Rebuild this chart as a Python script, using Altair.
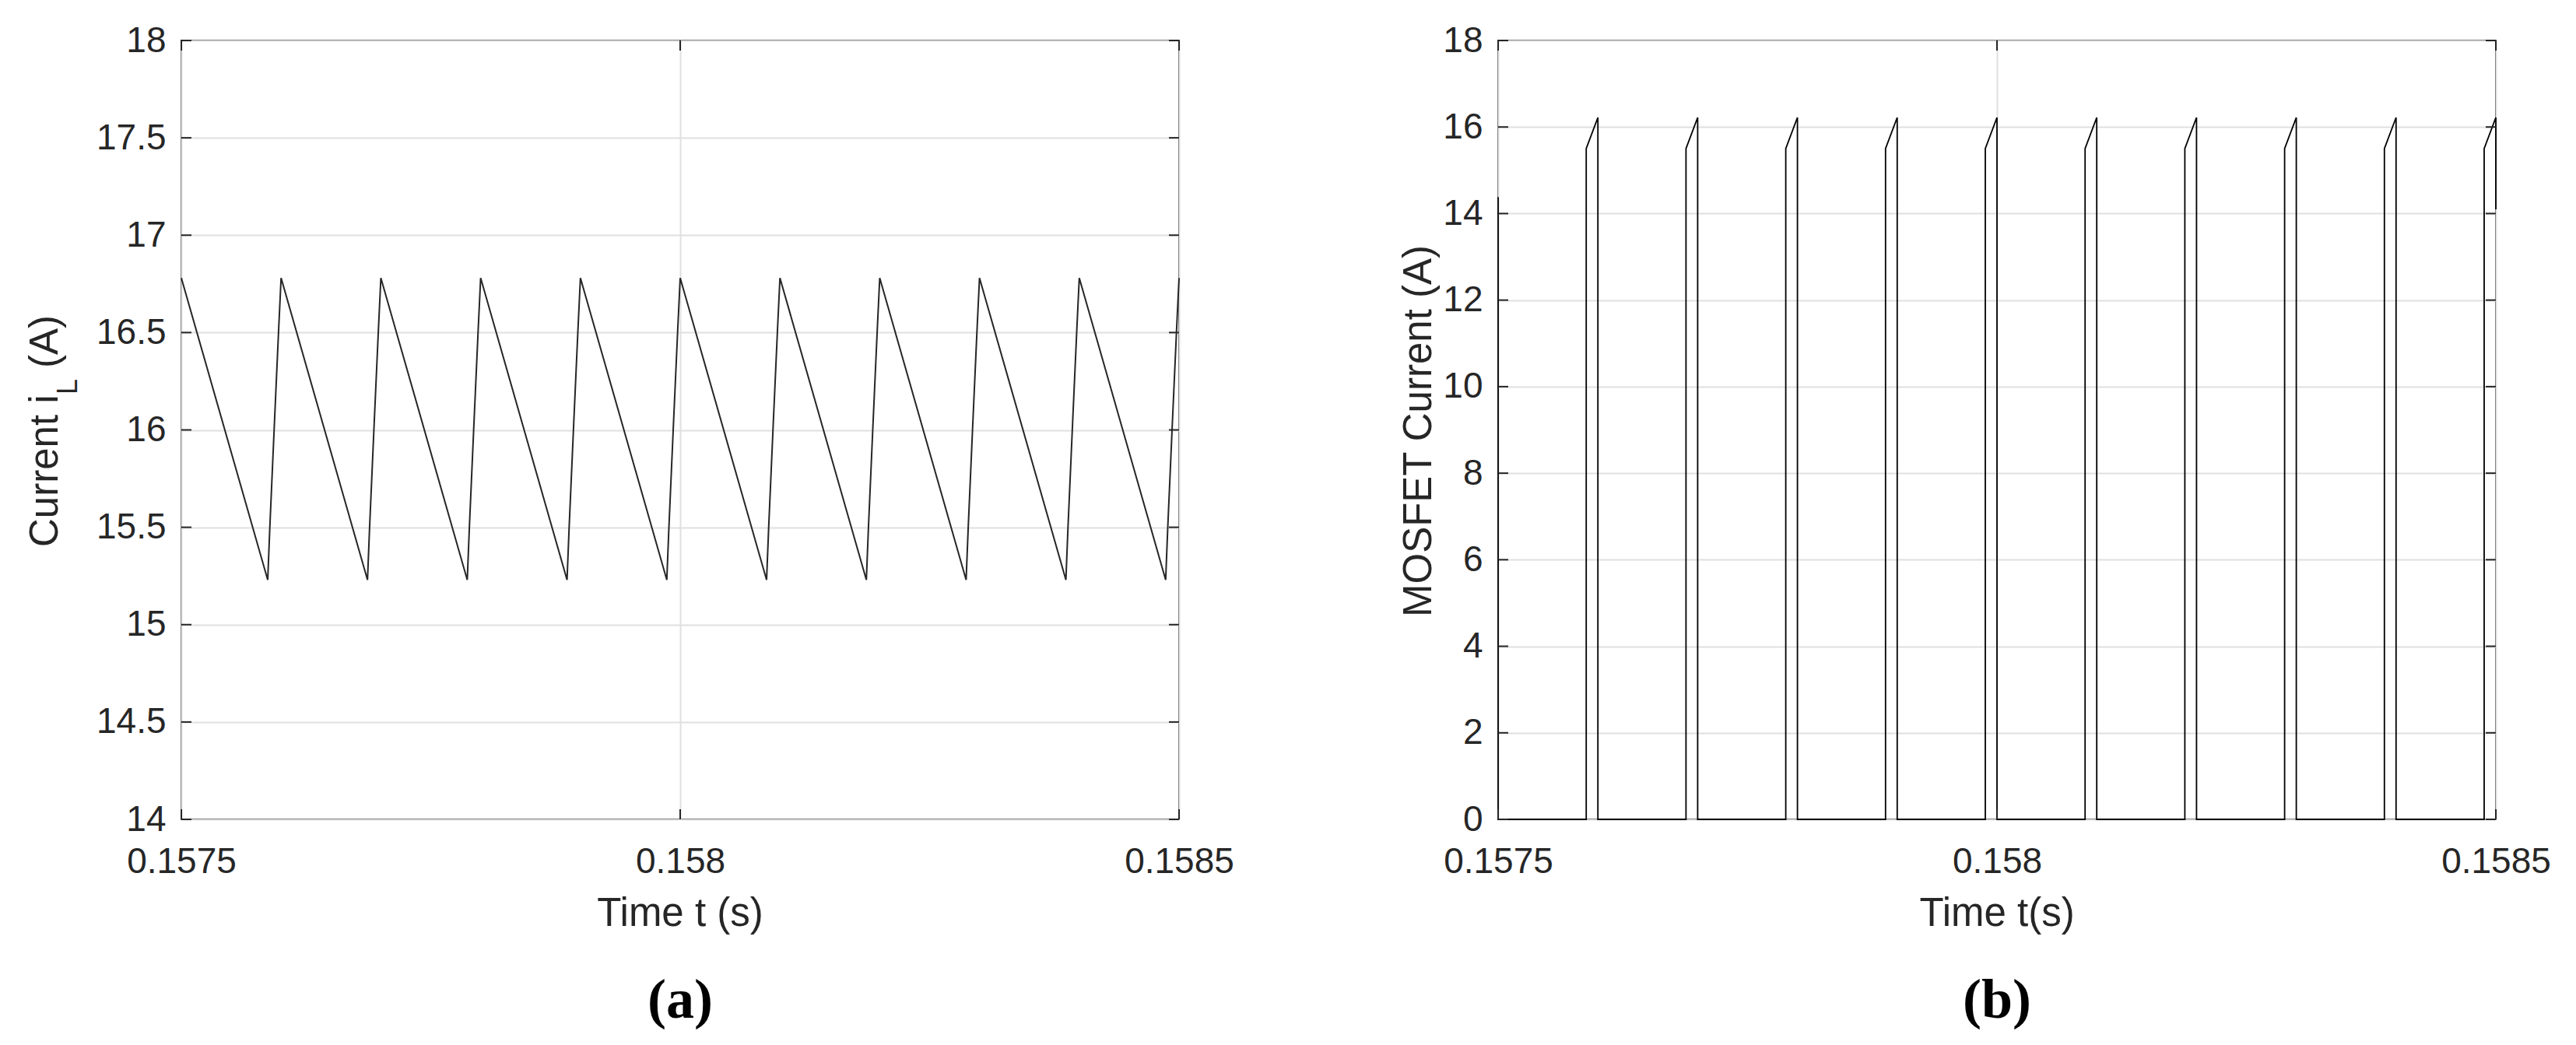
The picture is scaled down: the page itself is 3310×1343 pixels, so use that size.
import altair as alt
import pandas as pd

# ---------------- data ----------------
# (a) inductor current i_L (A) vs time t (s)
t_left = [
    0.1575,
    0.1575866, 0.1575887, 0.1575930, 0.1575974, 0.1576,
    0.1576866, 0.1576887, 0.1576930, 0.1576974, 0.1577,
    0.1577866, 0.1577887, 0.1577930, 0.1577974, 0.1578,
    0.1578866, 0.1578887, 0.1578930, 0.1578974, 0.1579,
    0.1579866, 0.1579887, 0.1579930, 0.1579974, 0.1580,
    0.1580866, 0.1580887, 0.1580930, 0.1580974, 0.1581,
    0.1581866, 0.1581887, 0.1581930, 0.1581974, 0.1582,
    0.1582866, 0.1582887, 0.1582930, 0.1582974, 0.1583,
    0.1583866, 0.1583887, 0.1583930, 0.1583974, 0.1584,
    0.1584866, 0.1584887, 0.1584930, 0.1584974, 0.1585,
]
i_left = [
    16.78,
    15.23, 15.50, 16.00, 16.50, 16.78,
    15.23, 15.50, 16.00, 16.50, 16.78,
    15.23, 15.50, 16.00, 16.50, 16.78,
    15.23, 15.50, 16.00, 16.50, 16.78,
    15.23, 15.50, 16.00, 16.50, 16.78,
    15.23, 15.50, 16.00, 16.50, 16.78,
    15.23, 15.50, 16.00, 16.50, 16.78,
    15.23, 15.50, 16.00, 16.50, 16.78,
    15.23, 15.50, 16.00, 16.50, 16.78,
    15.23, 15.50, 16.00, 16.50, 16.78,
]

# (b) MOSFET current (A) vs time t (s)
t_right = [
    0.1575, 0.1575,
    0.1575883, 0.1575883, 0.1576, 0.1576,
    0.1576883, 0.1576883, 0.1577, 0.1577,
    0.1577883, 0.1577883, 0.1578, 0.1578,
    0.1578883, 0.1578883, 0.1579, 0.1579,
    0.1579883, 0.1579883, 0.1580, 0.1580,
    0.1580883, 0.1580883, 0.1581, 0.1581,
    0.1581883, 0.1581883, 0.1582, 0.1582,
    0.1582883, 0.1582883, 0.1583, 0.1583,
    0.1583883, 0.1583883, 0.1584, 0.1584,
    0.1584883, 0.1584883, 0.1585, 0.1585,
]
i_right = [
    14.38, 0.0,
    0.0, 15.50, 16.22, 0.0,
    0.0, 15.50, 16.22, 0.0,
    0.0, 15.50, 16.22, 0.0,
    0.0, 15.50, 16.22, 0.0,
    0.0, 15.50, 16.22, 0.0,
    0.0, 15.50, 16.22, 0.0,
    0.0, 15.50, 16.22, 0.0,
    0.0, 15.50, 16.22, 0.0,
    0.0, 15.50, 16.22, 0.0,
    0.0, 15.50, 16.22, 14.10,
]

x_ticks = [0.1575, 0.158, 0.1585]
y_ticks_left = [14, 14.5, 15, 15.5, 16, 16.5, 17, 17.5, 18]
y_ticks_right = [0, 2, 4, 6, 8, 10, 12, 14, 16, 18]

# ---------------- styling ----------------
W, H = 1282, 1001
FONT = "Liberation Sans"
SERIF = "Liberation Serif"
DARK = "#262626"
GRID = "#e0e0e0"
TICK_FS = 46
TITLE_FS = 51
TICK_LEN = 13


def make_panel(t, v, ydom, yticks, yfmt, line_color, line_width, ytitle_layers, xtitle, caption):
    df = pd.DataFrame({"t": t, "v": v, "n": list(range(len(t)))})
    xs = alt.X(
        "t:Q",
        scale=alt.Scale(domain=[0.1575, 0.1585], nice=False, zero=False),
        axis=alt.Axis(values=x_ticks, format=".4~f", title=None, ticks=False, domain=False,
                      labelPadding=32, labelFlush=False, labelOverlap=False,
                      grid=True, gridColor=GRID, gridWidth=2,
                      labelFontSize=TICK_FS, labelFont=FONT, labelColor=DARK),
    )
    ys = alt.Y(
        "v:Q",
        scale=alt.Scale(domain=ydom, nice=False, zero=False),
        axis=alt.Axis(values=yticks, format=yfmt, title=None, ticks=False, domain=False,
                      labelPadding=20, labelFlush=False, labelOverlap=False,
                      grid=True, gridColor=GRID, gridWidth=2,
                      labelFontSize=TICK_FS, labelFont=FONT, labelColor=DARK),
    )
    line = alt.Chart(df).mark_line(color=line_color, strokeWidth=line_width).encode(
        x=xs, y=ys, order=alt.Order("n:Q")
    )
    ydf = pd.DataFrame({"v": yticks})
    xdf = pd.DataFrame({"t": x_ticks})
    rule = dict(color=DARK, strokeWidth=2)
    yt_l = alt.Chart(ydf).mark_rule(**rule).encode(y=ys, x=alt.value(0), x2=alt.value(TICK_LEN))
    yt_r = alt.Chart(ydf).mark_rule(**rule).encode(y=ys, x=alt.value(W - TICK_LEN), x2=alt.value(W))
    xt_b = alt.Chart(xdf).mark_rule(**rule).encode(x=xs, y=alt.value(H - TICK_LEN), y2=alt.value(H))
    xt_t = alt.Chart(xdf).mark_rule(**rule).encode(x=xs, y=alt.value(0), y2=alt.value(TICK_LEN))

    xt = alt.Chart(pd.DataFrame({"s": [xtitle]})).mark_text(
        align="center", baseline="alphabetic", fontSize=TITLE_FS, font=FONT, color=DARK
    ).encode(text="s:N", x=alt.value(W / 2), y=alt.value(H + 137))
    cap = alt.Chart(pd.DataFrame({"s": [caption]})).mark_text(
        align="center", baseline="alphabetic", fontSize=72, font=SERIF, fontWeight="bold", color="black"
    ).encode(text="s:N", x=alt.value(W / 2), y=alt.value(H + 255))

    return alt.layer(line, yt_l, yt_r, xt_b, xt_t, xt, cap, *ytitle_layers).properties(width=W, height=H)


def rot_text(s, x, y, size, align="left"):
    return alt.Chart(pd.DataFrame({"s": [s]})).mark_text(
        angle=270, align=align, baseline="alphabetic", fontSize=size, font=FONT, color=DARK
    ).encode(text="s:N", x=alt.value(x), y=alt.value(y))


left_title = [
    rot_text("Current i", -159, 651, TITLE_FS),
    rot_text("L", -134, 455, 36),
    rot_text("(A)", -159, 421, TITLE_FS),
]
right_title = [rot_text("MOSFET Current (A)", -86, 502, TITLE_FS, align="center")]

left = make_panel(t_left, i_left, [14, 18], y_ticks_left, "~g", "#262626", 2,
                  left_title, "Time t (s)", "(a)")
right = make_panel(t_right, i_right, [0, 18], y_ticks_right, "d", "#000000", 1.8,
                   right_title, "Time t(s)", "(b)")

chart = (
    alt.hconcat(left, right, spacing=210)
    .properties(padding={"left": 24, "top": 20, "right": 10, "bottom": 5}, background="white")
    .configure_view(stroke=DARK, strokeWidth=2)
)

chart.save("out.html", embed_options={"renderer": "svg", "actions": False})
